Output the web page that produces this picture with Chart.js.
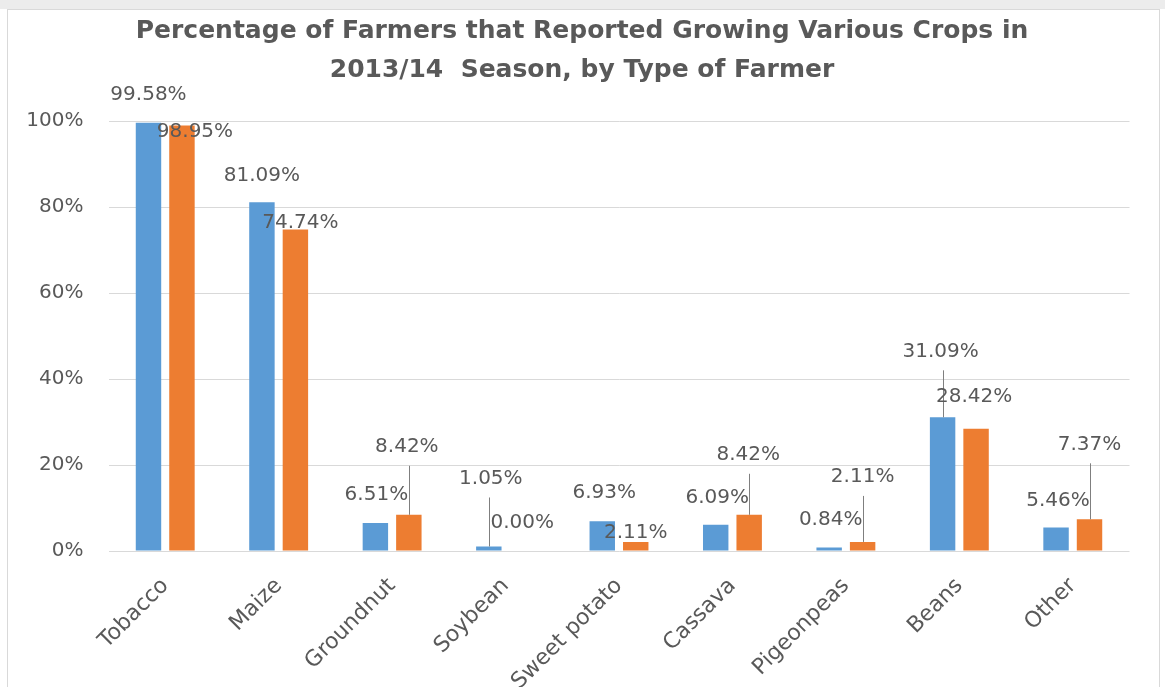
<!DOCTYPE html>
<html>
<head>
<meta charset="utf-8">
<script src="https://cdn.jsdelivr.net/npm/chart.js@4"></script>
<style>
  html, body { margin: 0; padding: 0; background: #fff; }
  #strip { position: absolute; left: 0; top: 0; width: 1165px; height: 9px; background: #ececec; }
  #frame { position: absolute; left: 7px; top: 9px; width: 1151px; height: 690px; border: 1px solid #d9d9d9; border-bottom: none; }
  #wrap { position: absolute; left: 0; top: 0; width: 1165px; height: 687px; }
</style>
</head>
<body>
<div id="strip"></div>
<div id="frame"></div>
<div id="wrap"><canvas id="chart"></canvas></div>
<script>
// crops and shares of farmers growing them (%)
const crops = ['Tobacco', 'Maize', 'Groundnut', 'Soybean', 'Sweet potato', 'Cassava', 'Pigeonpeas', 'Beans', 'Other'];
const groupA = [99.58, 81.09, 6.51, 1.05, 6.93, 6.09, 0.84, 31.09, 5.46];
const groupB = [98.95, 74.74, 8.42, 0.00, 2.11, 8.42, 2.11, 28.42, 7.37];
const yTicks = [0, 20, 40, 60, 80, 100];

// where each value label sits relative to the top of its bar (px)
const shiftA = [[0, -28], [0, -27], [1, -28], [2, -68], [2, -28], [1.5, -27], [1.5, -28], [-2, -66], [2, -27]];
const shiftB = [[13, 6.5], [5, -7], [-2, -68], [0, -28], [0, -9], [-1, -60], [0, -65], [-2, -32], [0, -75]];
// labels pulled away from their bar get a leader line
const leadA = [3, 7];
const leadB = [2, 5, 6, 8];

const grey = '#595959';
const font = '"DejaVu Sans", sans-serif';

const valueLabels = {
    id: 'valueLabels',
    afterDatasetsDraw(chart) {
        const ctx = chart.ctx;
        const shifts = [shiftA, shiftB];
        const leads = [leadA, leadB];
        ctx.save();
        ctx.font = '20px ' + font;
        ctx.fillStyle = grey;
        ctx.textAlign = 'center';
        ctx.textBaseline = 'middle';
        chart.data.datasets.forEach((ds, d) => {
            chart.getDatasetMeta(d).data.forEach((bar, i) => {
                const lx = bar.x + shifts[d][i][0];
                const ly = bar.y + shifts[d][i][1];
                if (leads[d].includes(i)) {
                    const x = Math.round(bar.x) + 0.5;
                    ctx.strokeStyle = '#7f7f7f';
                    ctx.lineWidth = 1;
                    ctx.beginPath();
                    ctx.moveTo(x, ly + 19);
                    ctx.lineTo(x, bar.y);
                    ctx.stroke();
                }
                ctx.fillText(ds.data[i].toFixed(2) + '%', lx, ly);
            });
        });
        ctx.restore();
    }
};

// centre the title on the whole canvas rather than the padded area
const titleSpan = {
    id: 'titleSpan',
    afterLayout(chart) {
        chart.titleBlock.left = 0;
        chart.titleBlock.right = chart.width - 1;
    }
};

new Chart(document.getElementById('chart'), {
    type: 'bar',
    data: {
        labels: crops,
        datasets: [
            { label: 'Farmer group A', data: groupA, backgroundColor: '#5b9bd5' },
            { label: 'Farmer group B', data: groupB, backgroundColor: '#ed7d31' }
        ]
    },
    options: {
        responsive: true,
        maintainAspectRatio: false,
        animation: false,
        categoryPercentage: 0.59,
        barPercentage: 0.76,
        layout: { padding: { left: 0, right: 35.5, top: 0, bottom: 0 } },
        plugins: {
            legend: { display: false },
            tooltip: { enabled: false },
            title: {
                display: true,
                text: ['Percentage of Farmers that Reported Growing Various Crops in', '2013/14  Season, by Type of Farmer'],
                color: grey,
                font: { family: font, size: 25, weight: 'bold', lineHeight: 1.56 },
                padding: { top: 12, bottom: 31 }
            }
        },
        scales: {
            y: {
                min: 0,
                max: 100,
                afterBuildTicks: s => { s.ticks = yTicks.map(v => ({ value: v })); },
                afterFit: s => { s.width = 108.5; },
                border: { display: false },
                grid: { color: '#d9d9d9', drawTicks: false },
                ticks: { color: grey, padding: 25, font: { family: font, size: 20 }, callback: v => v + '%' }
            },
            x: {
                afterFit: s => { s.height = 136; },
                border: { display: false },
                grid: { display: false },
                ticks: {
                    color: grey,
                    autoSkip: false,
                    minRotation: 45,
                    maxRotation: 45,
                    padding: 14,
                    font: { family: font, size: 22 }
                }
            }
        }
    },
    plugins: [valueLabels, titleSpan]
});
</script>
</body>
</html>
